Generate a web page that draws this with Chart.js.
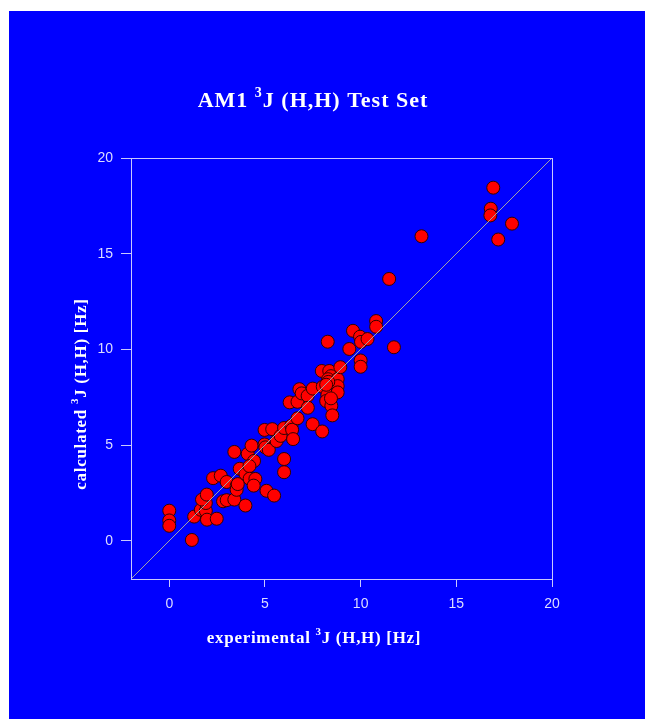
<!DOCTYPE html>
<html>
<head>
<meta charset="utf-8">
<script src="https://cdn.jsdelivr.net/npm/chart.js@4"></script>
<style>
  html, body { margin: 0; padding: 0; background: #fff; }
  canvas { display: block; }
</style>
</head>
<body>
<canvas id="jChart" width="645" height="719"></canvas>
<script>
// axis range and ticks
const axisRange = [-2, 20];
const tickValues = [0, 5, 10, 15, 20];

// experimental vs calculated 3J(H,H) values
const expJ = [
  0, 0, 0, 1.18, 1.3, 1.65, 1.91, 1.91, 1.71, 1.96,
  1.97, 2.48, 2.29, 2.69, 3.0, 2.81, 3.0, 3.4, 3.98, 3.52,
  3.52, 3.58, 3.68, 3.4, 3.98, 4.1, 4.3, 4.43, 4.19, 4.2,
  4.5, 4.41, 5.08, 5.48, 6.0, 6.0, 4.98, 5.02, 5.2, 4.98,
  5.38, 5.61, 5.82, 6.0, 6.38, 6.42, 6.47, 6.7, 6.29, 6.7,
  6.8, 6.92, 7.23, 7.24, 7.5, 7.49, 7.99, 7.97, 8.36, 8.45,
  8.3, 8.02, 8.26, 8.2, 8.47, 8.52, 8.8, 8.8, 8.8, 8.45,
  8.94, 8.28, 9.41, 10.0, 10.0, 9.6, 9.97, 10.02, 10.36, 10.81,
  10.81, 11.74, 11.49, 13.18, 16.93, 16.8, 16.78, 17.91, 17.19, 8.31,
  8.2
];
const calcJ = [
  1.57, 1.06, 0.78, 0.04, 1.26, 1.62, 1.56, 1.97, 2.15, 2.41,
  1.1, 1.15, 3.27, 3.4, 3.07, 2.06, 2.12, 2.15, 1.84, 2.87,
  2.66, 2.96, 3.76, 4.64, 3.49, 4.54, 4.97, 4.17, 3.9, 3.24,
  3.23, 2.88, 2.61, 2.36, 4.27, 3.58, 5.03, 4.88, 4.75, 5.79,
  5.83, 5.21, 5.48, 5.89, 6.01, 5.8, 5.31, 6.4, 7.23, 7.26,
  7.92, 7.7, 7.57, 6.95, 7.95, 6.09, 5.71, 8.87, 8.87, 8.6,
  8.44, 8.05, 7.62, 7.3, 7.05, 6.55, 8.45, 8.08, 7.75, 7.44,
  9.07, 10.4, 10.02, 9.42, 9.09, 10.97, 10.66, 10.39, 10.54, 11.48,
  11.18, 10.11, 13.68, 15.91, 18.45, 17.35, 17.0, 16.57, 15.74, 8.3,
  8.15
];

const points = expJ.map((x, i) => ({ x: x, y: calcJ[i] }));
const diagonal = axisRange.map(v => ({ x: v, y: v }));

const axisColor = '#c8c8ff';
const labelColor = '#dcdcff';

// draws a line of text with a raised small "3"
function drawSupText(ctx, parts, size, cx, base, spacing) {
  const supSize = Math.round(size * 0.62);
  ctx.letterSpacing = spacing + 'px';
  let total = 0;
  parts.forEach(p => {
    ctx.font = 'bold ' + (p.sup ? supSize : size) + 'px "Liberation Serif", "Times New Roman", serif';
    p.w = ctx.measureText(p.t).width;
    total += p.w;
  });
  let x = cx - total / 2;
  parts.forEach(p => {
    ctx.font = 'bold ' + (p.sup ? supSize : size) + 'px "Liberation Serif", "Times New Roman", serif';
    ctx.fillText(p.t, x, p.sup ? base - size * 0.45 : base);
    x += p.w;
  });
  ctx.letterSpacing = '0px';
}

const backdrop = {
  id: 'backdrop',
  beforeDraw(chart) {
    const ctx = chart.ctx;
    ctx.save();
    ctx.fillStyle = '#ffffff';
    ctx.fillRect(0, 0, chart.width, chart.height);
    ctx.fillStyle = '#0000ff';
    ctx.fillRect(9, 11, chart.width - 9, chart.height - 11);
    ctx.restore();
  },
  afterDraw(chart) {
    const ctx = chart.ctx;
    const a = chart.chartArea;
    ctx.save();
    // frame round the plot
    ctx.strokeStyle = axisColor;
    ctx.lineWidth = 1;
    ctx.strokeRect(Math.round(a.left) + 0.5, Math.round(a.top) + 0.5,
      Math.round(a.right - a.left), Math.round(a.bottom - a.top));

    ctx.fillStyle = '#ffffff';
    ctx.textBaseline = 'alphabetic';
    ctx.textAlign = 'left';
    drawSupText(ctx, [{ t: 'AM1 ' }, { t: '3', sup: true }, { t: 'J (H,H) Test Set' }], 22, 313, 107, 1);
    drawSupText(ctx, [{ t: 'experimental ' }, { t: '3', sup: true }, { t: 'J (H,H) [Hz]' }], 17, 314, 643, 0.7);

    ctx.translate(86, 394);
    ctx.rotate(-Math.PI / 2);
    drawSupText(ctx, [{ t: 'calculated ' }, { t: '3', sup: true }, { t: 'J (H,H) [Hz]' }], 17, 0, 0, 0.7);
    ctx.restore();
  }
};

new Chart(document.getElementById('jChart'), {
  type: 'scatter',
  data: {
    datasets: [
      {
        type: 'line',
        label: 'ideal',
        data: diagonal,
        borderColor: '#a0a0a8',
        borderWidth: 1,
        pointRadius: 0,
        fill: false,
        order: 0
      },
      {
        label: 'AM1',
        data: points,
        backgroundColor: '#ff0000',
        borderColor: '#300000',
        borderWidth: 1,
        pointRadius: 6.5,
        order: 1
      }
    ]
  },
  plugins: [backdrop],
  options: {
    responsive: false,
    animation: false,
    layout: { padding: { left: 81, right: 93, top: 158, bottom: 100 } },
    plugins: {
      legend: { display: false },
      tooltip: { enabled: false }
    },
    scales: {
      x: {
        type: 'linear',
        min: axisRange[0],
        max: axisRange[1],
        afterBuildTicks: s => { s.ticks = tickValues.map(v => ({ value: v })); },
        afterFit: s => { s.height = 40; },
        border: { display: false },
        grid: { drawOnChartArea: false, drawTicks: true, tickLength: 8, color: axisColor },
        ticks: {
          color: labelColor,
          padding: 9,
          maxRotation: 0,
          font: { family: '"Liberation Sans", Arial, sans-serif', size: 14 }
        }
      },
      y: {
        type: 'linear',
        min: axisRange[0],
        max: axisRange[1],
        afterBuildTicks: s => { s.ticks = tickValues.map(v => ({ value: v })); },
        afterFit: s => { s.width = 50; },
        border: { display: false },
        grid: { drawOnChartArea: false, drawTicks: true, tickLength: 10, color: axisColor },
        ticks: {
          color: labelColor,
          padding: 8,
          font: { family: '"Liberation Sans", Arial, sans-serif', size: 14 }
        }
      }
    }
  }
});
</script>
</body>
</html>
